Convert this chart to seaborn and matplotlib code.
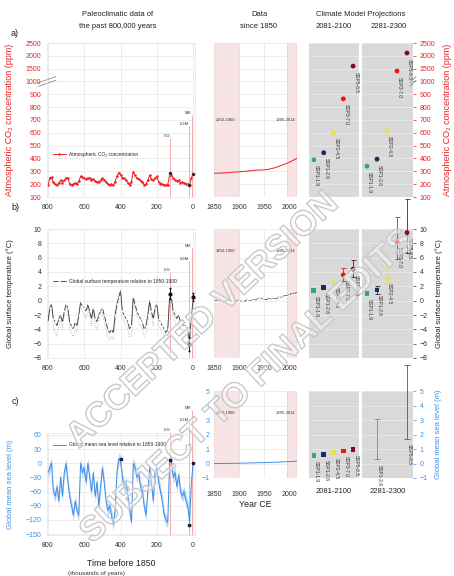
import numpy as np
import seaborn as sns
import matplotlib.pyplot as plt
import matplotlib.patheffects as pe

# ::. Paleo records, thousands of years before 1850 (800 ... 0, every 10 ka) ::.
paleo_ka = list(range(800, -1, -10))
co2_paleo = [190, 250, 255, 215, 200, 190, 210, 230, 210, 230,
             250, 245, 200, 190, 200, 210, 200, 225, 260, 255,
             245, 240, 250, 245, 230, 240, 225, 215, 220, 230,
             245, 235, 220, 200, 190, 200, 190, 220, 260, 290,
             275, 250, 245, 230, 210, 195, 220, 295, 270, 245,
             240, 225, 220, 195, 200, 230, 270, 240, 230, 250,
             260, 215, 205, 200, 195, 190, 195, 270, 275, 250,
             235, 225, 230, 210, 215, 210, 205, 200, 190, 250, 280]
temp_paleo = [-3.0, -1.0, -0.5, -2.5, -3.0, -3.5, -2.5, -2.0, -3.0, -1.5,
              -0.5, -1.0, -3.0, -3.5, -4.0, -3.0, -3.5, -2.0, -0.2, -0.8,
              -1.0, -1.5, -0.5, -1.5, -2.5, -1.0, -2.5, -3.0, -2.0, -1.5,
              -1.0, -2.0, -3.0, -4.0, -4.5, -4.0, -4.5, -2.0, -0.5, 0.5,
              1.4, -1.5, -2.0, -2.5, -3.0, -4.0, -3.5, 0.5, -0.5, -1.5,
              -2.0, -2.5, -3.0, -4.0, -3.5, -2.0, 0.0, -1.5, -2.5, -1.0,
              -0.5, -2.5, -3.0, -3.5, -4.0, -4.5, -4.0, 0.5, 0.5, -1.5,
              -2.0, -2.5, -2.0, -3.0, -3.0, -3.5, -3.5, -4.0, -5.5, -2.0, 0.0]
temp_paleo_alt = [-3.5, -1.5, -1.0, -3.5, -4.5, -5.0, -3.5, -2.5, -4.0, -2.0,
                  -1.0, -1.5, -4.0, -4.5, -5.0, -4.0, -4.5, -2.5, -0.5, -1.5,
                  -2.0, -2.5, -1.0, -2.0, -3.5, -1.5, -3.5, -4.0, -3.0, -2.0,
                  -1.5, -3.0, -4.0, -5.0, -5.5, -5.0, -5.5, -3.0, -1.0, 0.0,
                  1.0, -2.0, -3.0, -3.5, -4.0, -5.0, -5.0, 0.0, -1.0, -2.0,
                  -3.0, -3.5, -4.0, -5.0, -4.5, -3.0, -0.5, -2.0, -3.5, -1.5,
                  -1.0, -3.5, -4.0, -4.5, -5.0, -5.5, -5.0, 0.0, 0.0, -2.0,
                  -3.0, -3.5, -3.0, -4.0, -4.0, -4.5, -4.5, -5.0, -6.5, -3.0, -0.5]
sl_paleo = [-20, -10, 0, -60, -70, -50, -80, -30, -70, -20,
            0, -40, -70, -90, -110, -80, -100, -110, 0, -20,
            -10, -40, 0, -30, -60, -20, -70, -40, -90, -50,
            -10, -40, -80, -100, -90, -110, -130, -100, -20, 10,
            5, -30, -50, -40, -70, -100, -125, 0, -10, -30,
            -20, -50, -60, -90, -110, -60, -10, -40, -80, -20,
            -10, -40, -60, -80, -110, -120, -125, 0, 5, -30,
            -20, -50, -25, -60, -70, -60, -80, -90, -125, -40, 0]
sl_paleo_unc = 12

# .:: Reference periods ::.
ref_names = ["LIG", "LGM", "MH"]
ref_ka = [125, 21, 6]
ref_top_a = [560, 650, 740]
ref_top_b = [4.0, 5.6, 7.3]
ref_top_c = [66, 87, 113]

co2_pts_ka = [125, 21, 0]
co2_pts = [285, 195, 280]
temp_pts_ka = [125, 21, 0]
temp_pts = [1.0, -6.0, 0.5]
temp_pts_err = [0.8, 1.0, 0.6]
sl_pts_ka = [400, 125, 21, 0]
sl_pts = [8, 6, -130, 0]

# .:: Instrumental data since 1850 ::.
co2_years = [1850, 1860, 1870, 1880, 1890, 1900, 1910, 1920, 1930, 1940,
             1950, 1960, 1970, 1980, 1990, 2000, 2010, 2019]
co2_obs = [285, 286, 288, 290, 294, 296, 300, 303, 307, 311,
           311, 317, 326, 339, 354, 369, 389, 410]
temp_years = list(range(1850, 2021, 5))
temp_obs = [-0.05, 0.0, -0.1, 0.05, 0.0, -0.05, 0.0, -0.1, -0.15, -0.05,
            0.1, -0.1, -0.15, 0.1, 0.0, 0.05, 0.15, 0.1, 0.35, 0.3,
            0.15, 0.15, 0.3, 0.2, 0.3, 0.25, 0.5, 0.45, 0.7, 0.7,
            0.8, 0.95, 1.0, 1.1, 1.2]
sl_years = [1850, 1875, 1900, 1925, 1950, 1975, 2000, 2018]
sl_obs = [0.0, 0.0, 0.02, 0.04, 0.06, 0.09, 0.13, 0.17]

# .:: Projections ::.
ssp_names = ["SSP1-1.9", "SSP1-2.6", "SSP2-4.5", "SSP3-7.0", "SSP5-8.5"]
ssp_colors = ["#2fa58a", "#1c2b5c", "#ece431", "#f01515", "#7c0b2c"]
co2_2100 = [390, 445, 600, 865, 1600]
co2_2300 = [340, 395, 615, 1410, 2110]
temp_2100 = [1.4, 1.8, 2.7, 3.6, 4.4]
temp_2100_lo = [np.nan, np.nan, np.nan, 2.8, 3.3]
temp_2100_hi = [np.nan, np.nan, np.nan, 4.6, 5.7]
temp_2300 = [1.0, 1.5, 3.3, 8.2, 9.5]
temp_2300_lo = [np.nan, 1.0, 2.6, 5.8, 6.7]
temp_2300_hi = [np.nan, 2.0, 4.6, 11.7, 14.2]
sl_2100 = [0.56, 0.63, 0.75, 0.87, 0.98]
sl_2300_names = ["SSP1-2.6", "SSP5-8.5"]
sl_2300_pos = [1, 4]
sl_2300_lo = [0.3, 1.7]
sl_2300_hi = [3.1, 6.8]
sl_2300_colors = ["#7d8fb5", "#e03a3a"]

sns.set_theme(style="white")
plt.rcParams["font.family"] = ["Liberation Sans", "DejaVu Sans"]

RED = "#f01e1e"
BLUE = "#3d8ee8"
PINK = "#f8e4e4"
W, H = 454, 576


def box(x0, y0, x1, y1):
    return [x0 / W, 1 - y1 / H, (x1 - x0) / W, (y1 - y0) / H]


def fwd(y):
    y = np.asarray(y, dtype=float)
    return np.where(y <= 1000, y, 1000 + (y - 1000) / 5)


def inv(t):
    t = np.asarray(t, dtype=float)
    return np.where(t <= 1000, t, 1000 + (t - 1000) * 5)


co2_ticks = [100, 200, 300, 400, 500, 600, 700, 800, 900, 1000, 1500, 2000, 2500]
temp_ticks = list(range(-8, 11, 2))
slp_ticks = [60, 30, 0, -30, -60, -90, -120, -150]
sld_ticks = [-1, 0, 1, 2, 3, 4, 5]

fig = plt.figure(figsize=(W / 100, H / 100), dpi=100)

ax_pa = fig.add_axes(box(47, 43, 195, 197))
ax_da = fig.add_axes(box(214, 43, 297, 197))
ax_fa = fig.add_axes(box(309, 43, 359, 197))
ax_ga = fig.add_axes(box(362, 43, 413, 197))
ax_pb = fig.add_axes(box(47, 229, 195, 358))
ax_db = fig.add_axes(box(214, 229, 297, 358))
ax_fb = fig.add_axes(box(309, 229, 359, 358))
ax_gb = fig.add_axes(box(362, 229, 413, 358))
ax_pc = fig.add_axes(box(47, 433, 195, 535))
ax_dc = fig.add_axes(box(214, 391, 297, 478))
ax_fc = fig.add_axes(box(309, 391, 359, 478))
ax_gc = fig.add_axes(box(362, 391, 413, 478))

for ax in [ax_pa, ax_da, ax_fa, ax_ga]:
    ax.set_yscale("function", functions=(fwd, inv))
    ax.set_ylim(100, 2500)
    ax.set_yticks(co2_ticks)
for ax in [ax_pb, ax_db, ax_fb, ax_gb]:
    ax.set_ylim(-8, 10)
    ax.set_yticks(temp_ticks)
ax_pc.set_ylim(-152, 64)
ax_pc.set_yticks(slp_ticks)
for ax in [ax_dc, ax_fc, ax_gc]:
    ax.set_ylim(-1, 5)
    ax.set_yticks(sld_ticks)


# .:: Paleo column ::.
def style_paleo(ax, tick_color):
    ax.set_xlim(805, -10)
    ax.set_xticks([800, 600, 400, 200, 0])
    ax.grid(True, color="#e6e6e6", lw=0.5)
    for s in ax.spines.values():
        s.set_color("#e6e6e6")
        s.set_linewidth(0.5)
    ax.tick_params(length=0, labelsize=5, pad=5, colors="#333333")
    ax.tick_params(axis="y", labelcolor=tick_color, pad=4)
    ax.set_xlabel("")


def ref_lines(ax, tops, fs=3):
    for name, ka, top in zip(ref_names, ref_ka, tops):
        ax.vlines(ka, ax.get_ylim()[0], top, color="#f0a0a0", lw=0.6, clip_on=False, zorder=1)
        ax.text(ka + 3, top, name, fontsize=fs, ha="right", va="bottom", color="#333333", clip_on=False)


sns.lineplot(x=paleo_ka, y=co2_paleo, ax=ax_pa, color=RED, lw=0.7, marker="o", ms=1,
             mec=None, label="Atmospheric CO\u2082 concentration")
sns.scatterplot(x=co2_pts_ka, y=co2_pts, ax=ax_pa, color="#222222", s=7, zorder=5)
style_paleo(ax_pa, RED)
ref_lines(ax_pa, ref_top_a)
ax_pa.legend(loc=(0.03, 0.25), fontsize=3.5, frameon=False, handlelength=2.5)
ax_pa.set_ylabel("Atmospheric CO\u2082 concentration (ppm)", color=RED, fontsize=6.5)
ax_pa.yaxis.set_label_coords(-0.22, 0.5)

sns.lineplot(x=paleo_ka, y=temp_paleo_alt, ax=ax_pb, color="#a8a8a8", lw=0.6, ls=":")
sns.lineplot(x=paleo_ka, y=temp_paleo, ax=ax_pb, color="#333333", lw=0.6, marker="o", ms=0.8,
             label="Global surface temperature relative to 1850-1900")
ax_pb.errorbar(temp_pts_ka, temp_pts, yerr=temp_pts_err, fmt="o", color="#111111",
               ms=2, lw=0.7, capsize=1, zorder=5)
style_paleo(ax_pb, "#333333")
ref_lines(ax_pb, ref_top_b)
ax_pb.legend(loc=(0.03, 0.56), fontsize=3.5, frameon=False, handlelength=2.5)
ax_pb.set_ylabel("Global surface temperature (\u00b0C)", color="#222222", fontsize=5.5)
ax_pb.yaxis.set_label_coords(-0.22, 0.5)

sl_lo = [v - sl_paleo_unc for v in sl_paleo]
sl_hi = [v + sl_paleo_unc for v in sl_paleo]
ax_pc.fill_between(paleo_ka, sl_lo, sl_hi, color="#bcd6f5", lw=0)
sns.lineplot(x=paleo_ka, y=sl_paleo, ax=ax_pc, color=BLUE, lw=0.7,
             label="Global mean sea level relative to 1850-1900")
ax_pc.errorbar(sl_pts_ka, sl_pts, xerr=8, fmt="s", color="#1a1a3a", ms=2, lw=0.7, zorder=5)
style_paleo(ax_pc, BLUE)
ref_lines(ax_pc, ref_top_c)
ax_pc.legend(loc=(0.03, 0.84), fontsize=3.5, frameon=False, handlelength=2.5)
ax_pc.set_ylabel("Global mean sea level (m)", color=BLUE, fontsize=5.5)
ax_pc.yaxis.set_label_coords(-0.22, 0.5)
ax_pc.set_xlabel("Time before 1850", fontsize=6.3, color="#222222", labelpad=7)
fig.text(96 / W, 1 - 573 / H, "(thousands of years)", fontsize=4.5, ha="center", va="center", color="#333333")


# .:: Data since 1850 ::.
def style_data(ax, show_y=False, tick_color="#333333"):
    ax.set_xlim(1850, 2016)
    ax.set_xticks([1850, 1900, 1950, 2000])
    ax.axvspan(1850, 1900, color=PINK, lw=0, zorder=0)
    ax.axvspan(1995, 2014, color=PINK, lw=0, zorder=0)
    for x in [1850, 1900, 1995, 2014]:
        ax.axvline(x, color="#efc9c9", lw=0.5, zorder=0)
    ax.grid(True, color="#e6e6e6", lw=0.5)
    for s in ax.spines.values():
        s.set_visible(False)
    ax.tick_params(length=0, labelsize=5, pad=5, colors="#333333")
    ax.tick_params(axis="y", labelcolor=tick_color, pad=3)
    if not show_y:
        ax.set_yticklabels([])
    ax.set_xlabel("")
    ax.set_ylabel("")


def period_labels(ax, y):
    ax.text(1853, y, "1850-1900", fontsize=3, ha="left", va="center", color="#333333")
    ax.text(2013, y, "1995-2014", fontsize=3, ha="right", va="center", color="#333333")


sns.lineplot(x=co2_years, y=co2_obs, ax=ax_da, color=RED, lw=0.7)
style_data(ax_da)
period_labels(ax_da, 700)

sns.lineplot(x=temp_years, y=temp_obs, ax=ax_db, color="#222222", lw=0.6, marker="o", ms=0.8)
style_data(ax_db)
period_labels(ax_db, 7.0)

sns.lineplot(x=sl_years, y=sl_obs, ax=ax_dc, color=BLUE, lw=0.7)
style_data(ax_dc, show_y=True, tick_color=BLUE)
ax_dc.tick_params(axis="x", pad=9)
period_labels(ax_dc, 3.5)
ax_dc.set_xlabel("Year CE", fontsize=6.3, color="#222222", labelpad=2)


# .:: Projections ::.
def style_proj(ax, right=False, tick_color="#333333"):
    ax.set_facecolor("#d9d9d9")
    ax.set_xlim(-0.5, 4.6)
    ax.set_xticks([])
    ax.grid(True, axis="y", color="#ececec", lw=0.5)
    for s in ax.spines.values():
        s.set_visible(False)
    if right:
        ax.yaxis.tick_right()
        ax.yaxis.set_label_position("right")
        ax.tick_params(axis="y", length=2, width=0.5, colors=tick_color, labelsize=5, pad=3)
    else:
        ax.tick_params(axis="y", length=0)
        ax.set_yticklabels([])


def ssp_labels(ax, xs, ys, names, dx=2.0, dy=-4.0):
    for x, y, n in zip(xs, ys, names):
        ax.annotate(n, (x, y), xytext=(dx, dy), textcoords="offset points", rotation=-90,
                    rotation_mode="anchor", fontsize=3.6, ha="left", va="center", color="#333333",
                    annotation_clip=False)


pos = list(range(len(ssp_names)))

for ax, vals in [(ax_fa, co2_2100), (ax_ga, co2_2300)]:
    sns.scatterplot(x=pos, y=vals, hue=ssp_names, palette=ssp_colors, ax=ax, s=12,
                    edgecolor="none", legend=False, zorder=5)
    ssp_labels(ax, pos, vals, ssp_names)
style_proj(ax_fa)
style_proj(ax_ga, right=True, tick_color=RED)
ax_ga.set_ylabel("Atmospheric CO\u2082 concentration (ppm)", color=RED, fontsize=6.5, labelpad=5)

temp_markers = ["s", "s", "^", "o", "o"]
for ax, vals, lo, hi in [(ax_fb, temp_2100, temp_2100_lo, temp_2100_hi),
                         (ax_gb, temp_2300, temp_2300_lo, temp_2300_hi)]:
    for i in pos:
        if not np.isnan(lo[i]):
            ax.vlines(i, lo[i], hi[i], color=ssp_colors[i], lw=0.6, clip_on=False)
            ax.hlines([lo[i], hi[i]], i - 0.25, i + 0.25, color=ssp_colors[i], lw=0.6, clip_on=False)
    sns.scatterplot(x=pos, y=vals, hue=ssp_names, style=ssp_names, markers=temp_markers,
                    palette=ssp_colors, ax=ax, s=12, edgecolor="none", legend=False, zorder=5)
    ssp_labels(ax, pos, vals, ssp_names)
style_proj(ax_fb)
style_proj(ax_gb, right=True, tick_color="#333333")
ax_gb.set_ylabel("Global surface temperature (\u00b0C)", color="#222222", fontsize=5.5, labelpad=5)

sns.scatterplot(x=pos, y=sl_2100, hue=ssp_names, palette=ssp_colors, ax=ax_fc, s=11,
                marker="s", edgecolor="none", legend=False, zorder=5)
ssp_labels(ax_fc, pos, sl_2100, ssp_names)
for x, lo, hi, c in zip(sl_2300_pos, sl_2300_lo, sl_2300_hi, sl_2300_colors):
    ax_gc.vlines(x, lo, hi, color=c, lw=0.7, clip_on=False)
    ax_gc.hlines([lo, hi], x - 0.3, x + 0.3, color=c, lw=0.7, clip_on=False)
ssp_labels(ax_gc, sl_2300_pos, sl_2300_lo, sl_2300_names)
style_proj(ax_fc)
style_proj(ax_gc, right=True, tick_color=BLUE)
ax_gc.set_ylabel("Global mean sea level (m)", color=BLUE, fontsize=5.5, labelpad=5)
ax_fc.set_xlabel("2081-2100", fontsize=5.5, color="#222222", labelpad=7)
ax_gc.set_xlabel("2281-2300", fontsize=5.5, color="#222222", labelpad=7)

# .:: Axis break marks ::.
yb = (fwd(1000) - 100) / 1200
for ax, xb in [(ax_pa, 0.0), (ax_ga, 1.0)]:
    for d in [-0.012, 0.012]:
        ax.plot([xb - 0.06, xb + 0.06], [yb - 0.02 + d, yb + 0.02 + d], transform=ax.transAxes,
                color="#777777", lw=0.5, clip_on=False)

# .:: Column headers and panel letters ::.
hdr = dict(fontsize=5.5, ha="center", va="center", color="#222222")
fig.text(118 / W, 1 - 15 / H, "Paleoclimatic data of", **hdr)
fig.text(118 / W, 1 - 26 / H, "the past 800,000 years", **hdr)
fig.text(259 / W, 1 - 15 / H, "Data", **hdr)
fig.text(259 / W, 1 - 26 / H, "since 1850", **hdr)
fig.text(361 / W, 1 - 15 / H, "Climate Model Projections", **hdr)
fig.text(334 / W, 1 - 26 / H, "2081-2100", **hdr)
fig.text(389 / W, 1 - 26 / H, "2281-2300", **hdr)
for lbl, y in [("a)", 34), ("b)", 207), ("c)", 401)]:
    fig.text(15 / W, 1 - y / H, lbl, fontsize=6.5, ha="center", va="center", color="#222222")

# .:: Watermark ::.
wm = dict(fontsize=25, weight="bold", rotation=43, ha="center", va="center",
          color=(1, 1, 1, 0.25), zorder=20,
          path_effects=[pe.withStroke(linewidth=1.0, foreground="#c2c2c2")])
fig.text(203 / W, 1 - 320 / H, "ACCEPTED VERSION", **wm)
fig.text(248 / W, 1 - 386 / H, "SUBJECT TO FINAL EDITS", **wm)

fig.savefig("out.png", dpi=100)
